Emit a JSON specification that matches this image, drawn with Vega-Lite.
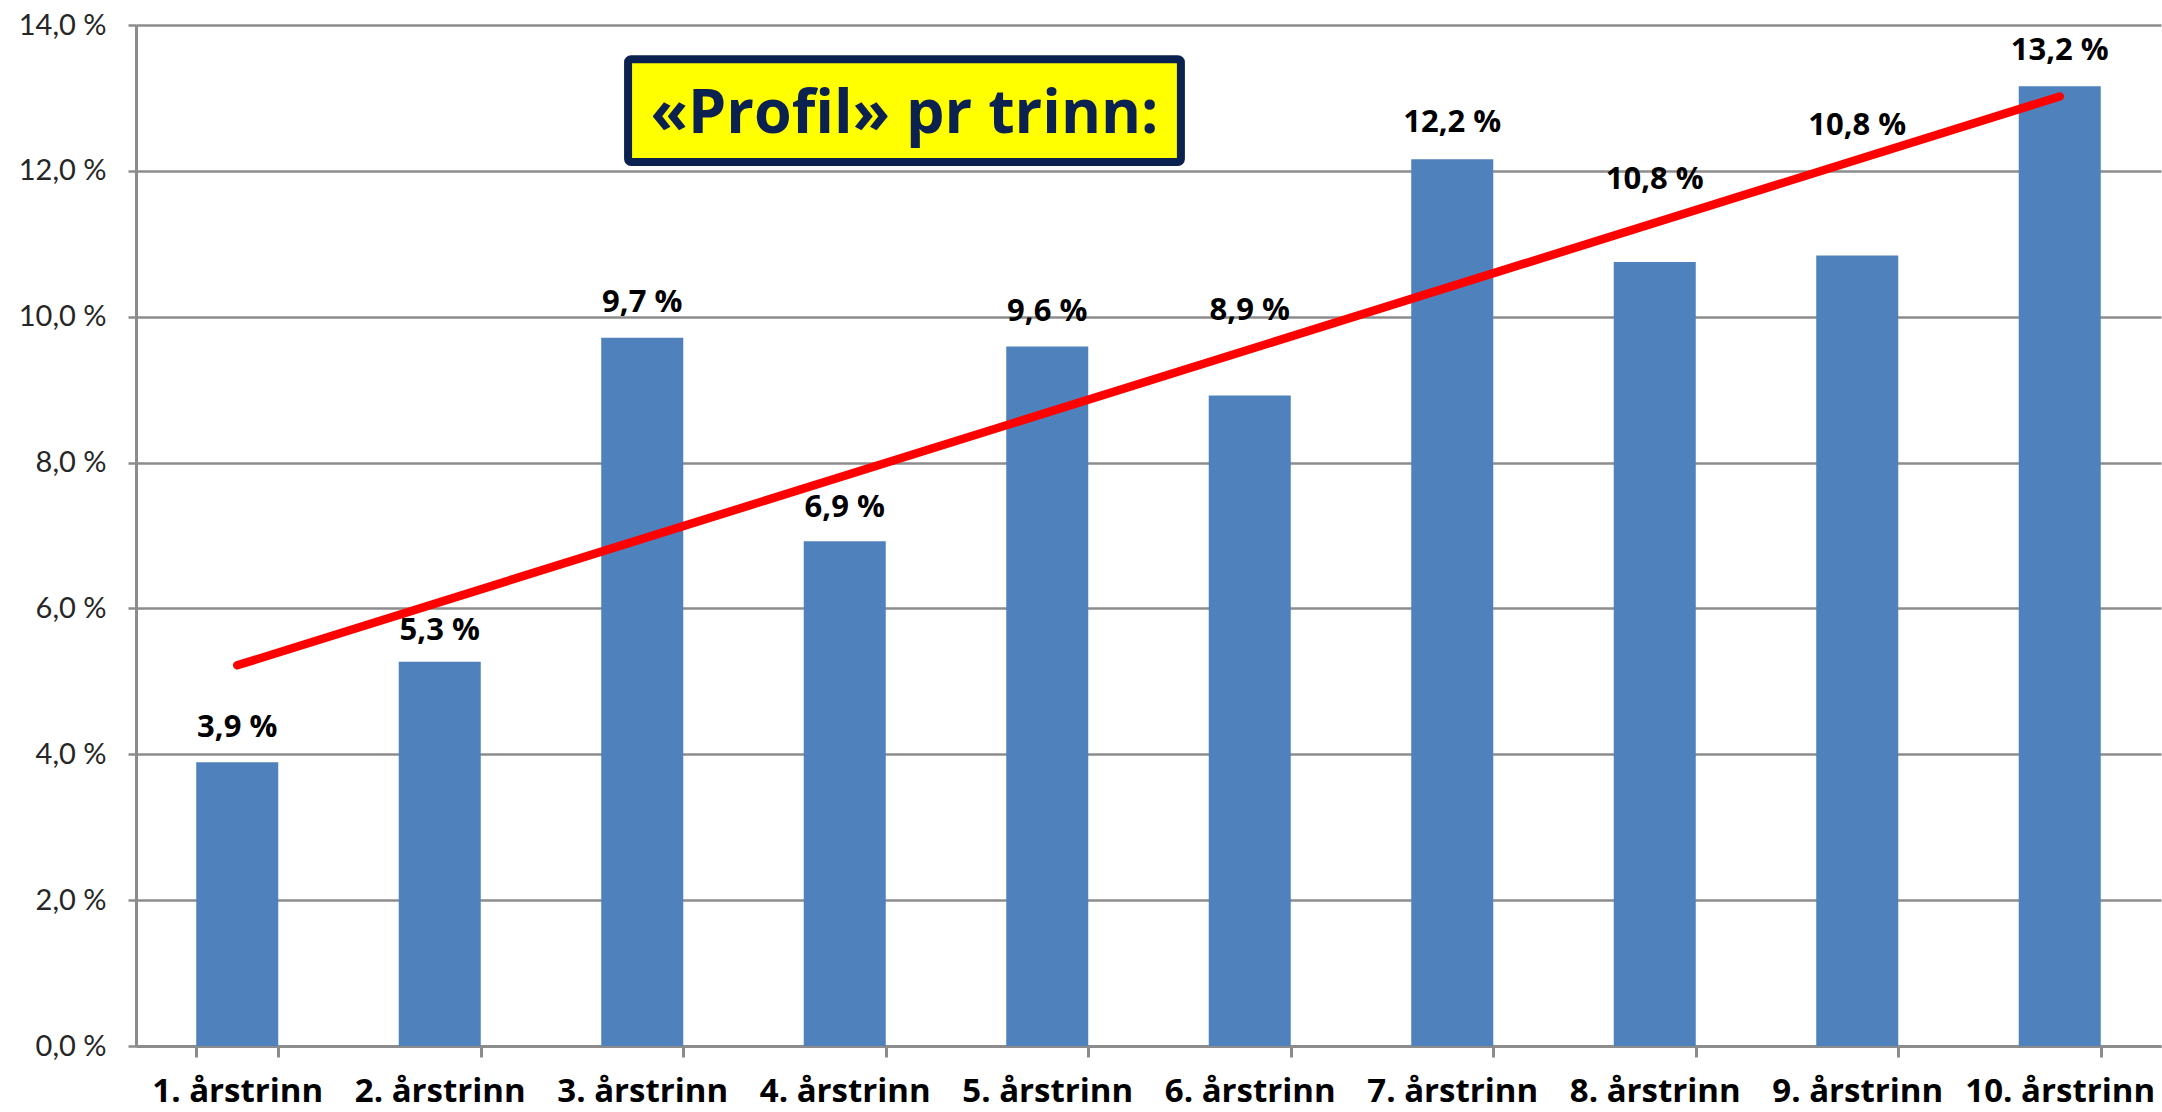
{
  "$schema": "https://vega.github.io/schema/vega-lite/v6.json",
  "width": 2025,
  "height": 1021,
  "autosize": {"type": "none"},
  "padding": {"left": 136, "top": 25, "right": 1, "bottom": 66},
  "background": "white",
  "config": {"view": {"stroke": null}, "font": "Lato"},
  "datasets": {
    "bars": [
      {"trinn": "1. årstrinn", "andel": 3.89, "label_y": 4.36, "label": "3,9 %"},
      {"trinn": "2. årstrinn", "andel": 5.27, "label_y": 5.69, "label": "5,3 %"},
      {"trinn": "3. årstrinn", "andel": 9.71, "label_y": 10.19, "label": "9,7 %"},
      {"trinn": "4. årstrinn", "andel": 6.92, "label_y": 7.38, "label": "6,9 %"},
      {"trinn": "5. årstrinn", "andel": 9.59, "label_y": 10.07, "label": "9,6 %"},
      {"trinn": "6. årstrinn", "andel": 8.92, "label_y": 10.08, "label": "8,9 %"},
      {"trinn": "7. årstrinn", "andel": 12.16, "label_y": 12.65, "label": "12,2 %"},
      {"trinn": "8. årstrinn", "andel": 10.75, "label_y": 11.87, "label": "10,8 %"},
      {"trinn": "9. årstrinn", "andel": 10.84, "label_y": 12.61, "label": "10,8 %"},
      {"trinn": "10. årstrinn", "andel": 13.16, "label_y": 13.65, "label": "13,2 %"}
    ],
    "trend": [
      {"trinn": "1. årstrinn", "trend": 5.22},
      {"trinn": "10. årstrinn", "trend": 13.02}
    ],
    "tittel": [
      {"tekst": "«Profil» pr trinn:"}
    ]
  },
  "layer": [
    {
      "layer": [
        {
          "data": {"name": "bars"},
          "mark": {"type": "bar", "color": "#4F81BD"},
          "encoding": {
            "x": {
              "field": "trinn", "type": "nominal", "sort": null,
              "scale": {
                "domain": ["1. årstrinn", "2. årstrinn", "3. årstrinn", "4. årstrinn", "5. årstrinn", "6. årstrinn", "7. årstrinn", "8. årstrinn", "9. årstrinn", "10. årstrinn"],
                "paddingInner": 0.595, "paddingOuter": 0.2975
              },
              "axis": {
                "title": null, "tickBand": "extent", "tickSize": 11, "tickWidth": 3,
                "tickColor": "#8c8c8c", "domainColor": "#8c8c8c", "domainWidth": 3,
                "labelFont": "Open Sans", "labelFontWeight": "bold", "labelFontSize": 33,
                "labelColor": "#000000", "labelPadding": 18, "labelAngle": 0,
                "labelOverlap": false, "labelLimit": 0, "grid": false
              }
            },
            "y": {
              "field": "andel", "type": "quantitative",
              "scale": {"domain": [0, 14], "nice": false, "zero": true},
              "axis": {
                "title": null, "values": [0, 2, 4, 6, 8, 10, 12, 14],
                "labelExpr": "replace(format(datum.value, '.1f'), '.', ',') + ' %'",
                "grid": true, "gridColor": "#8c8c8c", "gridWidth": 2.5,
                "domainColor": "#8c8c8c", "domainWidth": 3,
                "tickColor": "#8c8c8c", "tickWidth": 2.5, "tickSize": 8,
                "labelFont": "Lato", "labelFontSize": 29, "labelColor": "#262626",
                "labelPadding": 22
              }
            }
          }
        },
        {
          "data": {"name": "bars"},
          "mark": {"type": "text", "font": "Open Sans", "fontWeight": "bold", "fontSize": 31, "color": "#000000", "baseline": "middle", "align": "center"},
          "encoding": {
            "x": {"field": "trinn", "type": "nominal", "sort": null},
            "y": {"field": "label_y", "type": "quantitative"},
            "text": {"field": "label", "type": "nominal"}
          }
        },
        {
          "data": {"name": "trend"},
          "mark": {"type": "line", "color": "#FF0000", "strokeWidth": 8.5, "strokeCap": "round"},
          "encoding": {
            "x": {"field": "trinn", "type": "nominal", "sort": null},
            "y": {"field": "trend", "type": "quantitative"}
          }
        }
      ]
    },
    {
      "layer": [
        {
          "data": {"name": "tittel"},
          "mark": {"type": "rect", "fill": "#FFFF00", "stroke": "#0B2150", "strokeWidth": 8, "cornerRadius": 3},
          "encoding": {
            "x": {"datum": 0.243, "type": "quantitative", "scale": {"domain": [0, 1]}, "axis": null},
            "x2": {"datum": 0.516},
            "y": {"datum": 13.53, "type": "quantitative"},
            "y2": {"datum": 12.12}
          }
        },
        {
          "data": {"name": "tittel"},
          "mark": {"type": "text", "font": "Open Sans", "fontWeight": "bold", "fontSize": 61, "color": "#0B2150", "baseline": "alphabetic", "align": "center"},
          "encoding": {
            "x": {"datum": 0.3795, "type": "quantitative", "scale": {"domain": [0, 1]}, "axis": null},
            "y": {"datum": 12.52, "type": "quantitative"},
            "text": {"field": "tekst", "type": "nominal"}
          }
        }
      ]
    }
  ],
  "resolve": {"scale": {"x": "independent"}}
}
